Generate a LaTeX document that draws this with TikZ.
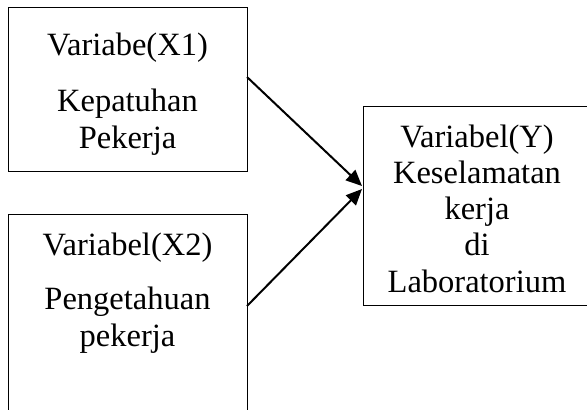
\documentclass[tikz,border=0pt]{standalone}
\usepackage{fontspec}
\setmainfont{Liberation Serif}
\usetikzlibrary{arrows.meta}

\tikzset{every picture/.style={line width=1.4pt}}
\tikzset{
	varbox/.style={draw, line width=1.4pt, anchor=north west, inner sep=0pt},
	vartext/.style={anchor=base, align=center, inner sep=0pt, font=\fontsize{32.5}{37}\selectfont},
	varline/.style={line width=2pt, -{Triangle[length=16pt,width=14pt]}}
}

\begin{document}
\begin{tikzpicture}[x=1pt,y=1pt,yscale=-1,xscale=1]
		\useasboundingbox (0,0) rectangle (587,410);
		\clip (0,0) rectangle (587,410);
		
		%kotak variabel
		\node [varbox, minimum width=239pt, minimum height=164pt] (x1) at (8,7) {};
		\node [varbox, minimum width=239pt, minimum height=240pt] (x2) at (8,214) {};
		\node [varbox, minimum width=262pt, minimum height=199pt] (y) at (363,106) {};
		
		%teks (anchor base = baris terakhir)
		\node [vartext] (x1text) at (127.5,148) {Variabe(X1)\\[19pt]Kepatuhan\\Pekerja};
		\node [vartext] (x2text) at (127.5,346) {Variabel(X2)\\[17pt]Pengetahuan\\pekerja};
		\node [vartext, font=\fontsize{32.5}{36.2}\selectfont] (ytext) at (477,292) {Variabel(Y)\\Keselamatan\\kerja\\di\\Laboratorium};
		
		%panah
		\coordinate (x1out) at (247,77);
		\coordinate (x2out) at (247,306);
		\coordinate (yin1) at (362,186);
		\coordinate (yin2) at (362,189);
		\draw [varline] (x1out) -- (yin1);
		\draw [varline] (x2out) -- (yin2);
		
\end{tikzpicture}
\end{document}
